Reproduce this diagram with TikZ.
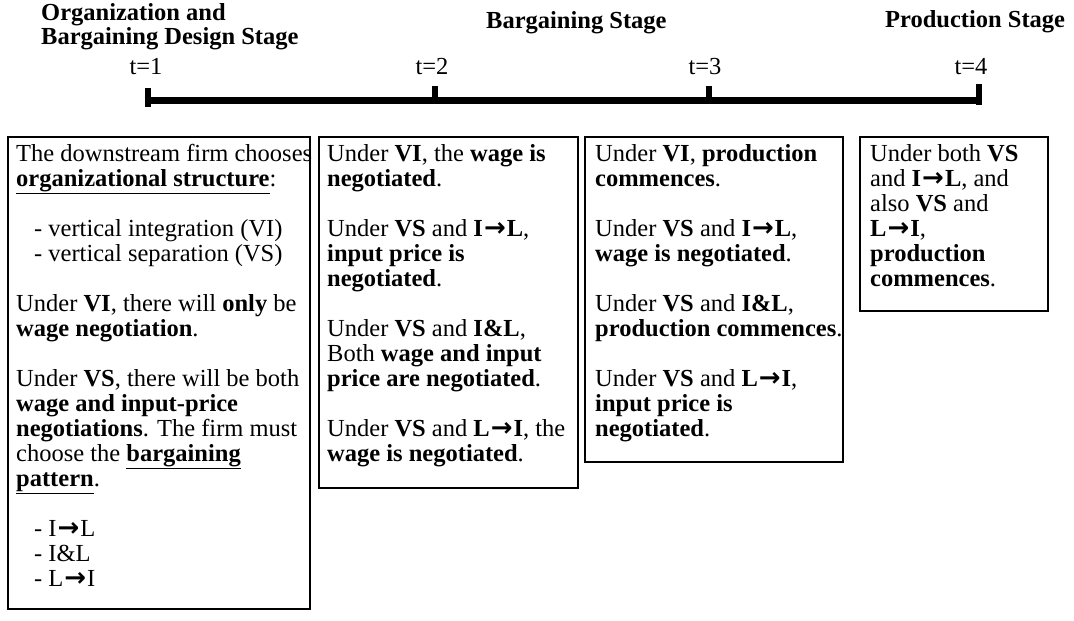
\documentclass[tikz,border=0pt]{standalone}
\usepackage{fontspec}
\setmainfont{Liberation Serif}
\newfontfamily\arrowfont{DejaVu Sans}
\newcommand\myarr{\kern1pt{\arrowfont\bfseries\fontsize{26}{25}\selectfont →}\kern1pt}
\newcommand\topstrut{\rule{0pt}{18pt}}
\newcommand\ind{\hspace*{18pt}}
\begin{document}
\begin{tikzpicture}[x=1pt,y=-1pt,
  stagebox/.style={draw, line width=2.2pt, inner sep=0pt, outer sep=0pt, anchor=north west},
  bodytext/.style={anchor=north west, inner sep=0pt, align=left, font=\fontsize{24.5}{25}\selectfont},
  headtext/.style={anchor=north west, inner sep=0pt, align=left, font=\fontsize{24.5}{24}\selectfont\bfseries},
  ticklabel/.style={anchor=base, inner sep=0pt, font=\fontsize{24.5}{25}\selectfont},
  timeline/.style={line width=7pt},
  tickmark/.style={line width=6pt},
]
\useasboundingbox (0,0) rectangle (1074,621);

% headings
\node[headtext] (h1) at (41,2) {\topstrut Organization and\\Bargaining Design Stage};
\node[headtext] (h2) at (486,10) {\topstrut Bargaining Stage};
\node[headtext] (h3) at (885,9) {\topstrut Production Stage};

% timeline
\coordinate (p1) at (147.8,100);
\coordinate (p2) at (434.5,100);
\coordinate (p3) at (709,100);
\coordinate (p4) at (978.7,100);
\draw[timeline] ([xshift=-3pt]p1) -- ([xshift=3pt]p4);
\draw[tickmark] ([yshift=12pt]p1) -- ([yshift=-7pt]p1);
\draw[tickmark] ([yshift=14pt]p2) -- (p2);
\draw[tickmark] ([yshift=14pt]p3) -- (p3);
\draw[tickmark] ([yshift=16pt]p4) -- ([yshift=-5pt]p4);
\node[ticklabel] (l1) at (146,74) {t=1};
\node[ticklabel] (l2) at (432,74) {t=2};
\node[ticklabel] (l3) at (705,74) {t=3};
\node[ticklabel] (l4) at (971,74) {t=4};

% boxes
\node[stagebox, minimum width=302pt, minimum height=472pt] (b1) at (8,137) {};
\node[stagebox, minimum width=259pt, minimum height=351pt] (b2) at (319,137) {};
\node[stagebox, minimum width=258pt, minimum height=325pt] (b3) at (585,137) {};
\node[stagebox, minimum width=188pt, minimum height=174pt] (b4) at (860,137) {};

% texts
\node[bodytext] (t1) at (16,143) {\topstrut The downstream firm chooses\\
\underline{\textbf{organizational structure}}:\\[25pt]
\ind- vertical integration (VI)\\
\ind- vertical separation (VS)\\[25pt]
Under \textbf{VI}, there will \textbf{only} be\\
\textbf{wage negotiation}.\\[25pt]
Under \textbf{VS}, there will be both\\
\textbf{wage and input-price}\\
\textbf{negotiations}. The firm must\\
choose the \underline{\textbf{bargaining}}\\
\underline{\textbf{pattern}}.\\[25pt]
\ind- I\myarr L\\
\ind- I\&L\\
\ind- L\myarr I};

\node[bodytext] (t2) at (327,143) {\topstrut Under \textbf{VI}, the \textbf{wage is}\\
\textbf{negotiated}.\\[25pt]
Under \textbf{VS} and \textbf{I\myarr L},\\
\textbf{input price is}\\
\textbf{negotiated}.\\[25pt]
Under \textbf{VS} and \textbf{I\&L},\\
Both \textbf{wage and input}\\
\textbf{price are negotiated}.\\[25pt]
Under \textbf{VS} and \textbf{L\myarr I}, the\\
\textbf{wage is negotiated}.};

\node[bodytext] (t3) at (595,143) {\topstrut Under \textbf{VI}, \textbf{production}\\
\textbf{commences}.\\[25pt]
Under \textbf{VS} and \textbf{I\myarr L},\\
\textbf{wage is negotiated}.\\[25pt]
Under \textbf{VS} and \textbf{I\&L},\\
\textbf{production commences}.\\[25pt]
Under \textbf{VS} and \textbf{L\myarr I},\\
\textbf{input price is}\\
\textbf{negotiated}.};

\node[bodytext] (t4) at (870,143) {\topstrut Under both \textbf{VS}\\
and \textbf{I\myarr L}, and\\
also \textbf{VS} and\\
\textbf{L\myarr I},\\
\textbf{production}\\
\textbf{commences}.};
\end{tikzpicture}
\end{document}
